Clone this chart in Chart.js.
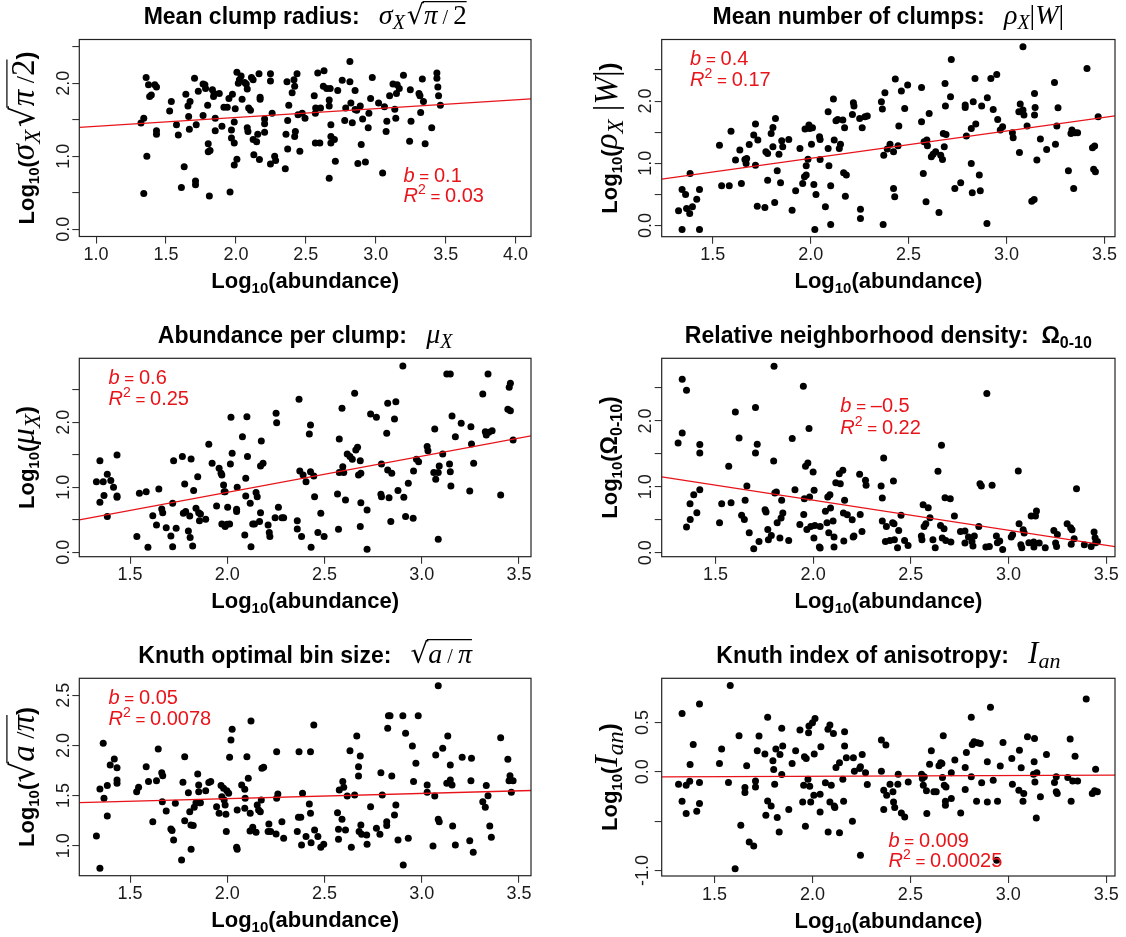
<!DOCTYPE html>
<html lang="en">
<head>
  <meta charset="UTF-8">
  <title>Clump statistics vs abundance</title>
  <script src="https://cdn.jsdelivr.net/npm/chart.js"></script>
  <style>
    body { margin: 0; background: #fff; }
    #wrap { position: relative; width: 1126px; height: 937px; overflow: hidden; }
    #wrap canvas { position: absolute; }
  </style>
</head>
<body>
  <div id="wrap"></div>

  <script>
    // Log10 values: [log10(abundance), log10(metric)]
    const clumpRadius = [[1.321,1.455],[1.341,1.52],[1.358,2.08],[1.375,1.98],[1.383,1.82],[1.395,1.84],[1.42,1.98],[1.432,1.95],[1.432,1.35],[1.432,1.30],[1.363,1.0],[1.341,0.49],[1.526,1.62],[1.538,1.75],[1.575,1.43],[1.588,1.29],[1.61,0.57],[1.63,0.855],[1.642,1.85],[1.657,1.69],[1.662,1.545],[1.672,1.75],[1.667,1.37],[1.704,2.07],[1.716,1.43],[1.711,0.66],[1.711,0.61],[1.731,1.89],[1.765,1.99],[1.778,1.98],[1.765,1.56],[1.783,1.93],[1.798,1.70],[1.802,1.17],[1.802,1.06],[1.815,1.08],[1.81,0.455],[1.832,1.91],[1.84,1.82],[1.844,1.86],[1.852,1.52],[1.852,1.35],[1.881,1.86],[1.90,1.41],[1.914,1.67],[1.938,1.67],[1.958,0.51],[1.95,1.79],[1.968,1.36],[1.968,1.25],[1.975,1.85],[1.988,1.18],[1.988,1.47],[1.995,1.65],[1.988,0.88],[2.007,0.96],[2.007,2.15],[2.017,2.0],[2.025,2.05],[2.037,2.10],[2.044,1.78],[2.062,2.01],[2.074,1.99],[2.081,1.92],[2.081,1.39],[2.086,1.34],[2.091,1.66],[2.104,1.63],[2.111,2.08],[2.123,2.05],[2.123,1.23],[2.128,1.02],[2.148,1.20],[2.156,1.30],[2.165,2.13],[2.173,1.81],[2.173,1.78],[2.168,0.955],[2.205,1.51],[2.205,1.445],[2.205,1.33],[2.247,2.13],[2.247,2.03],[2.247,0.895],[2.259,1.59],[2.277,1.0],[2.284,0.94],[2.353,0.83],[2.358,1.30],[2.365,2.02],[2.37,1.10],[2.378,1.70],[2.37,1.49],[2.402,1.87],[2.415,2.05],[2.42,1.96],[2.425,1.34],[2.42,1.27],[2.437,2.13],[2.444,1.57],[2.457,1.07],[2.474,1.59],[2.494,1.52],[2.56,1.83],[2.568,1.59],[2.57,1.66],[2.568,1.18],[2.585,2.14],[2.60,1.18],[2.605,1.66],[2.63,2.17],[2.625,1.96],[2.649,1.93],[2.667,1.77],[2.667,1.69],[2.674,1.93],[2.667,0.70],[2.679,1.43],[2.679,1.27],[2.679,1.18],[2.704,1.23],[2.711,0.93],[2.728,1.90],[2.76,2.04],[2.778,1.49],[2.785,1.66],[2.815,2.02],[2.815,2.30],[2.822,1.73],[2.832,1.46],[2.852,1.90],[2.852,1.64],[2.864,1.63],[2.872,0.90],[2.889,1.69],[2.896,1.16],[2.906,1.51],[2.926,0.92],[2.946,1.39],[2.951,1.59],[2.963,1.79],[2.975,2.08],[3.02,1.73],[3.049,0.77],[3.062,1.68],[3.074,1.34],[3.079,1.48],[3.099,1.83],[3.123,1.99],[3.136,1.645],[3.143,1.52],[3.148,1.86],[3.153,1.98],[3.168,1.93],[3.198,2.11],[3.242,1.205],[3.247,1.91],[3.252,1.48],[3.309,1.86],[3.316,1.83],[3.321,1.60],[3.333,2.06],[3.341,1.75],[3.353,1.17],[3.40,1.39],[3.437,2.14],[3.437,2.07],[3.444,1.95],[3.449,1.83],[3.462,1.70]];

    const clumpCount = [[1.325,0.236],[1.343,0.579],[1.343,-0.064],[1.361,0.499],[1.366,0.273],[1.382,0.193],[1.384,0.836],[1.396,0.30],[1.418,0.424],[1.432,0.579],[1.432,-0.064],[1.534,1.292],[1.545,0.638],[1.584,0.638],[1.593,1.517],[1.616,1.051],[1.638,1.212],[1.646,0.676],[1.664,1.062],[1.67,0.997],[1.673,1.078],[1.686,1.303],[1.709,1.453],[1.718,1.63],[1.718,0.97],[1.73,1.373],[1.727,0.311],[1.766,0.29],[1.771,1.185],[1.78,1.158],[1.78,0.729],[1.798,1.48],[1.807,1.576],[1.807,1.265],[1.816,0.37],[1.82,1.721],[1.829,0.879],[1.838,1.147],[1.846,0.686],[1.852,1.362],[1.857,1.265],[1.888,1.383],[1.905,0.247],[1.923,0.558],[1.945,1.239],[1.959,0.676],[1.968,0.783],[1.971,1.55],[1.977,0.96],[1.977,0.81],[1.986,1.067],[1.991,1.614],[1.995,1.56],[2.004,1.308],[2.009,1.571],[2.016,0.66],[2.021,-0.064],[2.027,0.499],[2.045,1.426],[2.048,1.383],[2.048,1.062],[2.075,0.30],[2.089,1.828],[2.089,1.239],[2.093,0.96],[2.102,0.638],[2.102,0.016],[2.116,2.032],[2.12,1.373],[2.129,1.684],[2.138,1.705],[2.146,1.239],[2.152,1.308],[2.164,1.694],[2.173,1.571],[2.168,0.847],[2.182,0.81],[2.177,0.472],[2.213,1.786],[2.218,1.973],[2.221,1.92],[2.25,1.721],[2.254,0.263],[2.254,0.113],[2.263,1.571],[2.277,1.748],[2.289,1.759],[2.361,1.989],[2.366,1.871],[2.37,0.016],[2.373,1.131],[2.379,2.134],[2.391,1.228],[2.405,1.308],[2.423,1.185],[2.423,0.595],[2.429,0.461],[2.432,2.354],[2.446,1.281],[2.45,1.598],[2.463,2.161],[2.48,1.882],[2.495,2.257],[2.566,2.22],[2.566,1.668],[2.575,0.836],[2.579,1.346],[2.589,0.381],[2.593,1.373],[2.596,1.281],[2.605,1.802],[2.616,1.104],[2.625,1.147],[2.638,1.185],[2.655,0.209],[2.664,1.131],[2.673,1.062],[2.677,1.48],[2.682,1.265],[2.686,2.284],[2.688,1.92],[2.691,1.464],[2.718,2.67],[2.714,2.07],[2.736,0.595],[2.766,0.686],[2.789,1.936],[2.789,1.898],[2.795,1.437],[2.82,1.56],[2.82,0.997],[2.825,0.525],[2.83,1.989],[2.839,2.365],[2.843,1.63],[2.861,0.81],[2.866,0.558],[2.873,1.92],[2.9,0.032],[2.902,2.054],[2.92,2.365],[2.932,1.866],[2.95,2.429],[2.955,1.705],[2.968,1.534],[2.98,1.587],[3.03,1.491],[3.034,1.41],[3.063,1.828],[3.066,1.174],[3.07,1.952],[3.084,2.874],[3.084,1.855],[3.089,1.775],[3.105,1.598],[3.129,0.391],[3.141,0.418],[3.143,2.123],[3.146,1.898],[3.143,1.775],[3.155,1.051],[3.173,1.389],[3.205,1.223],[3.245,2.30],[3.25,1.308],[3.257,1.598],[3.263,1.893],[3.316,0.879],[3.329,1.48],[3.334,1.534],[3.343,0.595],[3.35,1.491],[3.363,1.491],[3.411,2.525],[3.439,1.249],[3.45,1.276],[3.445,0.906],[3.454,0.863],[3.468,1.748]];

    const perClump = [[1.327,1.087],[1.345,1.41],[1.345,0.769],[1.362,1.087],[1.366,0.872],[1.383,1.20],[1.383,0.549],[1.401,1.103],[1.415,1.0],[1.433,1.497],[1.433,0.867],[1.433,0.846],[1.535,0.241],[1.548,0.908],[1.583,0.933],[1.592,0.077],[1.617,0.564],[1.636,0.421],[1.648,0.974],[1.663,0.667],[1.668,0.61],[1.686,0.379],[1.71,0.251],[1.719,0.754],[1.719,0.087],[1.724,1.41],[1.737,0.369],[1.769,1.472],[1.774,0.60],[1.781,1.051],[1.786,0.626],[1.80,0.328],[1.807,0.559],[1.809,0.226],[1.814,1.436],[1.822,0.097],[1.827,0.949],[1.839,0.677],[1.848,1.164],[1.853,0.61],[1.857,0.487],[1.862,0.59],[1.889,0.508],[1.905,1.662],[1.922,1.369],[1.945,0.713],[1.958,1.292],[1.968,1.215],[1.972,1.19],[1.972,0.436],[1.981,1.036],[1.984,0.933],[1.989,0.933],[1.989,0.395],[1.998,0.431],[2.002,0.692],[2.012,0.436],[2.016,1.359],[2.019,2.077],[2.025,1.523],[2.048,0.662],[2.048,0.626],[2.051,1.0],[2.078,1.779],[2.09,0.267],[2.095,1.138],[2.095,0.867],[2.101,2.087],[2.104,1.472],[2.118,0.754],[2.122,0.087],[2.131,0.436],[2.14,0.436],[2.148,0.918],[2.154,0.856],[2.166,0.472],[2.171,0.61],[2.171,1.328],[2.175,1.713],[2.184,1.369],[2.21,0.421],[2.216,0.303],[2.219,0.241],[2.246,0.533],[2.251,2.138],[2.254,1.995],[2.263,0.692],[2.281,0.533],[2.29,0.533],[2.36,0.487],[2.36,0.359],[2.369,2.354],[2.373,1.251],[2.382,0.241],[2.39,1.19],[2.405,1.087],[2.422,1.821],[2.428,1.959],[2.428,1.241],[2.431,0.077],[2.445,1.174],[2.449,0.856],[2.466,0.303],[2.481,0.60],[2.498,0.241],[2.567,0.897],[2.572,0.354],[2.576,1.744],[2.576,1.226],[2.59,2.215],[2.594,1.318],[2.599,1.226],[2.608,0.805],[2.617,1.513],[2.631,1.472],[2.643,1.431],[2.655,2.446],[2.661,1.574],[2.67,1.615],[2.675,1.19],[2.684,1.41],[2.687,0.764],[2.684,0.395],[2.687,1.215],[2.719,0.651],[2.719,0.046],[2.737,2.128],[2.767,2.077],[2.79,0.892],[2.793,0.856],[2.793,1.359],[2.82,1.831],[2.825,2.292],[2.825,1.267],[2.832,0.841],[2.841,0.472],[2.846,1.215],[2.86,2.051],[2.867,2.318],[2.878,0.949],[2.903,2.867],[2.908,0.846],[2.917,0.549],[2.931,1.062],[2.956,0.523],[2.958,1.251],[2.973,1.431],[2.984,1.395],[3.028,1.626],[3.032,1.564],[3.067,1.897],[3.062,1.226],[3.072,1.123],[3.085,1.226],[3.085,0.20],[3.09,1.328],[3.108,1.513],[3.129,2.744],[3.147,2.744],[3.156,2.097],[3.143,1.359],[3.147,1.241],[3.15,1.021],[3.173,1.779],[3.203,1.985],[3.247,0.944],[3.253,1.933],[3.256,1.667],[3.267,1.369],[3.314,2.436],[3.327,1.856],[3.332,1.805],[3.341,2.744],[3.345,1.846],[3.362,1.872],[3.406,0.882],[3.443,2.20],[3.45,2.538],[3.456,2.60],[3.456,2.179],[3.47,1.728]];

    const neighDensity = [[1.309,1.666],[1.33,2.633],[1.33,1.818],[1.352,2.466],[1.352,0.39],[1.37,0.744],[1.371,0.506],[1.389,0.881],[1.405,0.608],[1.42,1.641],[1.42,1.514],[1.42,0.957],[1.521,0.456],[1.532,0.744],[1.568,1.311],[1.58,0.759],[1.602,2.137],[1.621,1.742],[1.634,0.567],[1.648,0.506],[1.652,0.795],[1.661,1.013],[1.673,0.304],[1.696,0.061],[1.705,2.203],[1.705,1.514],[1.714,1.646],[1.723,0.172],[1.754,0.653],[1.759,0.618],[1.768,0.354],[1.771,0.197],[1.786,0.263],[1.798,1.392],[1.80,2.83],[1.804,0.906],[1.812,0.922],[1.816,0.456],[1.83,0.223],[1.839,0.795],[1.836,0.527],[1.845,0.603],[1.875,0.187],[1.893,1.732],[1.907,0.957],[1.932,0.43],[1.95,2.527],[1.952,0.582],[1.955,0.82],[1.961,1.311],[1.968,0.354],[1.973,1.362],[1.979,1.884],[1.982,0.846],[1.988,0.40],[2.0,1.225],[2.004,0.223],[2.005,0.947],[2.009,0.415],[2.032,0.086],[2.036,0.071],[2.036,0.40],[2.063,0.628],[2.071,0.456],[2.075,0.846],[2.08,0.304],[2.086,0.881],[2.089,0.678],[2.102,0.481],[2.107,0.238],[2.107,0.086],[2.116,1.063],[2.139,1.048],[2.134,1.20],[2.152,1.251],[2.157,0.177],[2.155,0.603],[2.161,0.795],[2.175,0.577],[2.20,0.501],[2.205,0.238],[2.209,0.253],[2.238,1.19],[2.241,0.582],[2.25,0.324],[2.268,1.099],[2.271,1.023],[2.348,1.013],[2.354,0.83],[2.354,0.481],[2.361,1.438],[2.37,0.172],[2.375,0.40],[2.393,0.187],[2.407,0.456],[2.411,1.089],[2.414,0.441],[2.416,0.197],[2.432,0.076],[2.438,0.339],[2.45,0.567],[2.468,0.187],[2.486,0.111],[2.554,0.253],[2.557,0.197],[2.563,0.729],[2.568,0.40],[2.577,0.441],[2.589,0.684],[2.598,0.532],[2.613,0.197],[2.625,0.076],[2.639,1.235],[2.652,0.415],[2.657,1.63],[2.661,0.223],[2.67,0.365],[2.675,0.835],[2.679,0.187],[2.702,0.82],[2.705,0.162],[2.723,0.557],[2.754,0.324],[2.777,0.329],[2.777,0.147],[2.795,0.238],[2.813,0.172],[2.818,0.101],[2.825,0.253],[2.848,0.40],[2.854,1.048],[2.861,1.013],[2.889,2.415],[2.884,0.086],[2.902,0.096],[2.916,1.023],[2.938,0.253],[2.943,0.152],[2.955,0.177],[2.97,0.051],[3.014,0.238],[3.021,0.273],[3.05,1.24],[3.054,0.441],[3.063,0.122],[3.068,0.076],[3.075,0.349],[3.08,0.299],[3.104,0.152],[3.116,0.557],[3.129,0.162],[3.13,0.086],[3.138,0.557],[3.143,0.633],[3.157,0.147],[3.188,0.076],[3.232,0.339],[3.241,0.147],[3.246,0.096],[3.25,0.278],[3.3,0.441],[3.318,0.38],[3.325,0.349],[3.321,0.127],[3.336,0.213],[3.348,0.972],[3.388,0.122],[3.423,0.096],[3.438,0.314],[3.443,0.228],[3.446,0.152],[3.455,0.172]];

    const binSize = [[1.327,1.096],[1.345,0.774],[1.345,1.565],[1.362,2.021],[1.366,1.472],[1.383,1.599],[1.383,1.296],[1.398,1.805],[1.419,1.865],[1.433,1.778],[1.433,1.655],[1.433,1.622],[1.534,1.539],[1.544,1.582],[1.583,1.788],[1.595,1.639],[1.617,1.239],[1.636,1.648],[1.645,1.964],[1.663,1.728],[1.668,1.698],[1.666,1.439],[1.686,1.346],[1.71,1.166],[1.716,1.15],[1.724,1.057],[1.733,1.422],[1.772,1.632],[1.781,1.888],[1.781,1.249],[1.80,1.529],[1.807,1.339],[1.813,1.206],[1.825,1.20],[1.814,0.963],[1.765,0.857],[1.83,1.382],[1.839,1.429],[1.848,1.715],[1.853,1.605],[1.853,1.539],[1.857,1.429],[1.862,1.429],[1.889,1.549],[1.905,1.629],[1.915,1.639],[1.945,1.389],[1.958,1.323],[1.968,1.599],[1.972,1.489],[1.981,1.572],[1.984,1.456],[1.989,1.406],[1.993,1.313],[1.995,1.14],[1.998,1.549],[2.007,1.522],[2.012,1.881],[2.019,2.054],[2.025,2.161],[2.051,1.356],[2.048,0.983],[2.051,0.963],[2.074,1.605],[2.09,1.562],[2.092,1.472],[2.09,1.372],[2.101,1.888],[2.108,1.672],[2.118,1.323],[2.117,1.146],[2.122,2.244],[2.131,1.183],[2.148,1.133],[2.154,1.406],[2.161,1.356],[2.17,1.339],[2.175,1.456],[2.178,1.772],[2.187,1.782],[2.21,1.14],[2.214,1.216],[2.223,1.14],[2.251,1.116],[2.254,1.472],[2.26,1.515],[2.254,1.938],[2.281,1.239],[2.29,1.073],[2.36,1.14],[2.366,1.283],[2.369,1.938],[2.378,1.283],[2.382,1.007],[2.387,1.522],[2.405,1.09],[2.422,1.416],[2.428,1.323],[2.428,1.938],[2.431,1.03],[2.445,2.204],[2.449,1.156],[2.466,1.09],[2.481,0.983],[2.496,1.013],[2.567,1.329],[2.572,1.163],[2.572,1.063],[2.576,1.555],[2.59,1.263],[2.594,1.639],[2.599,1.582],[2.608,1.156],[2.617,1.496],[2.631,1.948],[2.638,0.983],[2.655,1.505],[2.666,2.094],[2.675,1.695],[2.675,1.788],[2.678,1.14],[2.684,1.895],[2.687,1.206],[2.691,1.113],[2.717,1.106],[2.719,1.013],[2.737,1.389],[2.767,1.173],[2.785,1.113],[2.79,1.728],[2.797,1.505],[2.82,1.239],[2.82,1.20],[2.825,2.171],[2.829,2.297],[2.837,2.297],[2.846,1.695],[2.86,1.306],[2.867,1.406],[2.878,1.057],[2.903,2.297],[2.905,0.807],[2.917,2.121],[2.931,1.073],[2.952,1.994],[2.958,1.639],[2.97,1.821],[2.982,2.297],[3.028,1.605],[3.028,1.532],[3.058,0.997],[3.067,1.496],[3.072,1.905],[3.085,1.263],[3.09,1.239],[3.085,2.596],[3.108,1.971],[3.129,1.622],[3.134,2.094],[3.147,1.805],[3.147,1.655],[3.156,1.605],[3.159,1.196],[3.173,1.007],[3.208,1.881],[3.247,1.05],[3.256,1.871],[3.253,1.648],[3.265,0.933],[3.314,1.439],[3.327,1.382],[3.332,1.599],[3.341,1.499],[3.35,1.196],[3.358,1.083],[3.406,2.077],[3.443,1.861],[3.454,1.698],[3.449,1.648],[3.461,1.532],[3.47,1.648]];

    const anisotropy = [[1.316,-0.125],[1.334,0.593],[1.334,-0.298],[1.355,-0.136],[1.355,-0.424],[1.373,-0.095],[1.375,0.075],[1.391,0.278],[1.409,-0.40],[1.423,0.688],[1.423,-0.108],[1.423,-0.322],[1.525,0.085],[1.536,0.231],[1.571,-0.108],[1.58,0.875],[1.605,-0.983],[1.625,0.366],[1.634,-0.542],[1.655,-0.159],[1.655,-0.21],[1.664,0.061],[1.677,-0.712],[1.70,-0.753],[1.709,-0.092],[1.709,-0.153],[1.718,0.214],[1.727,0.363],[1.757,0.18],[1.762,-0.441],[1.771,0.553],[1.771,-0.295],[1.789,-0.346],[1.798,0.112],[1.802,0.024],[1.807,-0.125],[1.813,0.231],[1.82,-0.464],[1.83,-0.61],[1.834,0.176],[1.843,0.441],[1.843,-0.027],[1.848,0.261],[1.879,-0.383],[1.896,0.085],[1.914,0.214],[1.936,0.424],[1.95,-0.305],[1.955,-0.136],[1.959,0.153],[1.964,-0.553],[1.968,0.136],[1.977,-0.075],[1.98,0.397],[1.982,0.464],[1.986,-0.146],[1.991,-0.305],[2.0,0.498],[2.009,0.18],[2.007,-0.237],[2.013,0.542],[2.039,-0.227],[2.039,-0.407],[2.043,0.254],[2.066,-0.112],[2.079,0.431],[2.08,-0.61],[2.089,0.475],[2.089,-0.305],[2.096,-0.136],[2.107,0.39],[2.111,-0.346],[2.114,-0.363],[2.12,0.044],[2.138,0.092],[2.138,-0.617],[2.155,-0.075],[2.159,-0.298],[2.164,0.407],[2.164,0.261],[2.173,0.142],[2.204,-0.502],[2.209,0.142],[2.214,0.007],[2.241,0.034],[2.245,0.051],[2.254,0.176],[2.245,-0.847],[2.271,-0.01],[2.28,-0.129],[2.352,0.322],[2.352,0.007],[2.364,-0.186],[2.364,-0.383],[2.375,0.271],[2.379,-0.237],[2.396,-0.125],[2.411,-0.203],[2.414,-0.305],[2.42,-0.363],[2.436,-0.125],[2.438,-0.024],[2.454,-0.417],[2.471,-0.458],[2.489,-0.102],[2.557,-0.024],[2.561,-0.068],[2.566,-0.136],[2.571,-0.051],[2.582,-0.193],[2.584,-0.424],[2.598,0.078],[2.607,0.214],[2.62,-0.203],[2.632,-0.203],[2.646,0.061],[2.655,0.092],[2.661,0.085],[2.664,-0.058],[2.668,0.366],[2.673,-0.136],[2.679,-0.298],[2.679,-0.339],[2.682,-0.153],[2.709,-0.01],[2.709,-0.271],[2.727,0.119],[2.757,-0.417],[2.78,0.044],[2.78,-0.18],[2.786,0.197],[2.811,0.553],[2.811,-0.051],[2.816,0.278],[2.825,0.305],[2.838,-0.298],[2.843,0.295],[2.857,0.288],[2.864,-0.112],[2.893,0.102],[2.893,-0.305],[2.909,0.654],[2.923,-0.085],[2.945,-0.298],[2.941,-0.898],[2.959,0.058],[2.973,0.298],[3.018,0.136],[3.021,-0.125],[3.054,-0.186],[3.057,0.22],[3.066,0.041],[3.075,-0.298],[3.079,-0.22],[3.098,0.356],[3.129,-0.024],[3.132,0.102],[3.134,0.339],[3.136,-0.102],[3.143,-0.468],[3.146,-0.01],[3.164,-0.254],[3.195,0.176],[3.236,-0.108],[3.245,-0.051],[3.245,-0.203],[3.25,-0.22],[3.304,-0.058],[3.316,0.332],[3.321,-0.298],[3.329,-0.092],[3.341,0.159],[3.354,-0.092],[3.398,0.739],[3.429,-0.22],[3.441,-0.193],[3.446,0.027],[3.455,-0.203]];

    // fitted regression lines (intercept, slope) and the printed statistics
    const fitIntercept = [1.289, 0.200, -0.193, 1.707, 1.365, -0.060];
    const fitSlope     = [0.121, 0.440, 0.557, -0.455, 0.052, 0.0073];
    const slopeText = ['0.1', '0.4', '0.6', '\u20130.5', '0.05', '0.009'];
    const r2Text    = ['0.03', '0.17', '0.25', '0.22', '0.0078', '0.00025'];

    // tick values and labels
    const xTicksWide  = [1.0, 1.5, 2.0, 2.5, 3.0, 3.5, 4.0];
    const xLabelsWide = ['1.0', '1.5', '2.0', '2.5', '3.0', '3.5', '4.0'];
    const xTicks  = [1.5, 2.0, 2.5, 3.0, 3.5];
    const xLabels = ['1.5', '2.0', '2.5', '3.0', '3.5'];
    const yTicksA  = [0, 0.5, 1.0, 1.5, 2.0, 2.5];
    const yLabelsA = ['0.0', '', '1.0', '', '2.0', ''];
    const yTicksBin  = [1.0, 1.5, 2.0, 2.5];
    const yLabelsBin = ['1.0', '1.5', '2.0', '2.5'];
    const yTicksAn  = [-1.0, -0.5, 0, 0.5];
    const yLabelsAn = ['-1.0', '', '0.0', '0.5'];

    const SANS = '"Liberation Sans", Arial, Helvetica, sans-serif';
    const SERIF = '"Liberation Serif", "DejaVu Serif", serif';
    const RED = '#e8141a';

    // text run helpers: bold sans, math italic, math upright, radical
    const B = (t, s, dy) => ({ t, f: 'bold ' + s + 'px ' + SANS, dy: dy || 0 });
    const MI = (t, s, dy, over) => ({ t, f: 'italic ' + s + 'px ' + SERIF, dy: dy || 0, over });
    const MR = (t, s, dy, over) => ({ t, f: s + 'px ' + SERIF, dy: dy || 0, over });
    const RAD = s => ({ t: '\u221a', f: s + 'px "DejaVu Sans"', dy: 0, rad: s });
    const LOG = () => [B('Log', 22), B('10', 15, 5), B('(', 22)];

    function drawRuns(ctx, runs, x, y, align) {
      let w = 0;
      runs.forEach(r => { ctx.font = r.f; r.w = ctx.measureText(r.t).width; w += r.w; });
      let cx = align === 'center' ? x - w / 2 : x;
      let ov = null, radSize = 0;
      runs.forEach(r => {
        ctx.font = r.f;
        ctx.fillText(r.t, cx, y + r.dy);
        if (r.rad) radSize = r.rad;
        if (r.over) {
          if (!ov) ov = { x0: cx - 1.5, s: radSize };
          ov.x1 = cx + r.w;
        }
        cx += r.w;
      });
      if (ov) {
        ctx.save();
        ctx.strokeStyle = ctx.fillStyle;
        ctx.lineWidth = 1.2;
        ctx.beginPath();
        const oy = y - ov.s * 0.83;
        ctx.moveTo(ov.x0, oy);
        ctx.lineTo(ov.x1, oy);
        ctx.stroke();
        ctx.restore();
      }
    }

    const panels = [
      { data: clumpRadius, rect: [0, 0, 560, 310], box: [79.3, 39.5, 531, 236.5],
        xr: [0.88, 4.11], yr: [-0.1, 2.6], xt: xTicksWide, xl: xLabelsWide, yt: yTicksA, yl: yLabelsA,
        stat: [3.198, 0.645, 0.373],
        title: [B('Mean clump radius:   ', 23), MI('\u03c3', 28), MI('X', 20, 5), MR(' ', 8), RAD(27), MI('\u03c0', 27, 0, true), MR(' / ', 20, 0, true), MR('2', 27, 0, true)],
        ytitle: [...LOG(), MI('\u03c3', 33), MI('X', 23, 6), MR(' ', 10), RAD(33), MI('\u03c0', 33, 0, true), MR(' /', 26, 0, true), MR('2', 33, 0, true), B(')', 24)] },
      { data: clumpCount, rect: [580, 0, 546, 310], box: [661.7, 39.5, 1115, 236.7],
        xr: [1.239, 3.554], yr: [-0.18, 2.99], xt: xTicks, xl: xLabels, yt: yTicksA, yl: yLabelsA,
        stat: [1.384, 2.579, 2.247],
        title: [B('Mean number of clumps:   ', 23), MI('\u03c1', 28), MI('X', 20, 5), MR('|', 28), MI('W', 28), MR('|', 28)],
        ytitle: [...LOG(), MI('\u03c1', 33), MI('X', 23, 6), MR(' |', 33), MI('W', 33), MR('|', 33), B(')', 24)] },
      { data: perClump, rect: [0, 315, 560, 315], box: [79.3, 358.3, 531, 556.7],
        xr: [1.239, 3.562], yr: [-0.068, 2.985], xt: xTicks, xl: xLabels, yt: yTicksA, yl: yLabelsA,
        stat: [1.389, 2.59, 2.267],
        title: [B('Abundance per clump:   ', 23), MI('\u03bc', 28), MI('X', 20, 5)],
        ytitle: [...LOG(), MI('\u03bc', 33), MI('X', 23, 6), B(')', 24)] },
      { data: neighDensity, rect: [580, 315, 546, 315], box: [661.7, 358.3, 1115, 556.7],
        xr: [1.225, 3.545], yr: [-0.06, 2.95], xt: xTicks, xl: xLabels, yt: yTicksA, yl: yLabelsA,
        stat: [2.139, 2.137, 1.808],
        title: [B('Relative neighborhood density:  ', 23), B('\u03a9', 23), B('0-10', 16, 5)],
        ytitle: [...LOG(), B('\u03a9', 23), B('0-10', 16, 5), B(')', 23)] },
      { data: binSize, rect: [0, 635, 560, 302], box: [79.3, 678.3, 531, 875.7],
        xr: [1.239, 3.562], yr: [0.70, 2.67], xt: xTicks, xl: xLabels, yt: yTicksBin, yl: yLabelsBin,
        stat: [1.389, 2.413, 2.204],
        title: [B('Knuth optimal bin size:   ', 23), RAD(28), MI('a', 28, 0, true), MR(' / ', 20, 0, true), MI('\u03c0', 28, 0, true)],
        ytitle: [...LOG(), RAD(33), MI('a', 33, 0, true), MR(' /', 26, 0, true), MI('\u03c0', 33, 0, true), B(')', 24)] },
      { data: anisotropy, rect: [580, 635, 546, 302], box: [661.7, 678.3, 1115, 876],
        xr: [1.23, 3.545], yr: [-1.057, 0.949], xt: xTicks, xl: xLabels, yt: yTicksAn, yl: yLabelsAn,
        stat: [2.388, -0.763, -0.966],
        title: [B('Knuth index of anisotropy:   ', 23), MI('I', 31), MI('an', 22, 5)],
        ytitle: [...LOG(), MI('I', 34), MI('an', 24, 6), B(')', 24)] }
    ];

    function decorPlugin(p, i) {
      return {
        id: 'decor' + i,
        afterDraw(chart) {
          const { ctx, chartArea: a, scales } = chart;
          ctx.save();
          ctx.strokeStyle = '#222';
          ctx.lineWidth = 1.2;
          ctx.strokeRect(a.left, a.top, a.right - a.left, a.bottom - a.top);
          ctx.textBaseline = 'alphabetic';
          ctx.textAlign = 'left';
          ctx.fillStyle = '#000';
          const cx = (a.left + a.right) / 2, cy = (a.top + a.bottom) / 2;
          drawRuns(ctx, p.title, cx, a.top - 15.5, 'center');
          drawRuns(ctx, [B('Log', 22), B('10', 15, 5), B('(abundance)', 22)], cx, a.bottom + 51.5, 'center');
          ctx.save();
          ctx.translate(a.left - 45, cy);
          ctx.rotate(-Math.PI / 2);
          drawRuns(ctx, p.ytitle, 0, 0, 'center');
          ctx.restore();
          ctx.fillStyle = RED;
          const sx = scales.x.getPixelForValue(p.stat[0]);
          const it = 'italic 20px ' + SANS, rg = '20px ' + SANS, sm = '17px ' + SANS;
          drawRuns(ctx, [{ t: 'b', f: it, dy: 0 }, { t: ' = ', f: sm, dy: 0 }, { t: slopeText[i], f: rg, dy: 0 }],
            sx, scales.y.getPixelForValue(p.stat[1]), 'left');
          drawRuns(ctx, [{ t: 'R', f: it, dy: 0 }, { t: '2', f: '14px ' + SANS, dy: -8 }, { t: ' = ', f: sm, dy: 0 }, { t: r2Text[i], f: rg, dy: 0 }],
            sx, scales.y.getPixelForValue(p.stat[2]), 'left');
          ctx.restore();
        }
      };
    }

    function axis(min, max, ticks, labels, vertical, size) {
      return {
        type: 'linear', min, max,
        afterBuildTicks: s => { s.ticks = ticks.map(v => ({ value: v })); },
        afterFit: s => { if (vertical) s.width = size; else s.height = size; },
        ticks: {
          autoSkip: false,
          callback: (v, idx) => labels[idx],
          font: { family: SANS, size: 18 },
          color: '#1a1a1a',
          padding: vertical ? -4 : 1,
          minRotation: vertical ? 90 : 0,
          maxRotation: vertical ? 90 : 0,
          crossAlign: vertical ? 'center' : 'near'
        },
        grid: { drawOnChartArea: false, drawTicks: true, tickLength: 7, color: '#333', lineWidth: 1.1 },
        border: { display: false }
      };
    }

    const wrap = document.getElementById('wrap');
    panels.forEach((p, i) => {
      const [left, top, w, h] = p.rect;
      const [bl, bt, br, bb] = p.box;
      const cv = document.createElement('canvas');
      cv.width = w; cv.height = h;
      cv.style.left = left + 'px'; cv.style.top = top + 'px';
      cv.style.width = w + 'px'; cv.style.height = h + 'px';
      wrap.appendChild(cv);

      const a = fitIntercept[i], b = fitSlope[i];
      new Chart(cv, {
        data: {
          datasets: [
            { type: 'line', data: [{ x: p.xr[0], y: a + b * p.xr[0] }, { x: p.xr[1], y: a + b * p.xr[1] }],
              borderColor: RED, borderWidth: 1.3, pointRadius: 0, fill: false },
            { type: 'scatter', data: p.data.map(d => ({ x: d[0], y: d[1] })),
              pointRadius: 3.5, pointHoverRadius: 3.5, backgroundColor: '#000', borderWidth: 0 }
          ]
        },
        options: {
          responsive: false,
          animation: false,
          devicePixelRatio: 1,
          layout: { padding: { left: 0, top: bt - top, right: left + w - br, bottom: 0 } },
          plugins: { legend: { display: false }, tooltip: { enabled: false } },
          scales: {
            x: axis(p.xr[0], p.xr[1], p.xt, p.xl, false, top + h - bb),
            y: axis(p.yr[0], p.yr[1], p.yt, p.yl, true, bl - left)
          }
        },
        plugins: [decorPlugin(p, i)]
      });
    });
  </script>
</body>
</html>
